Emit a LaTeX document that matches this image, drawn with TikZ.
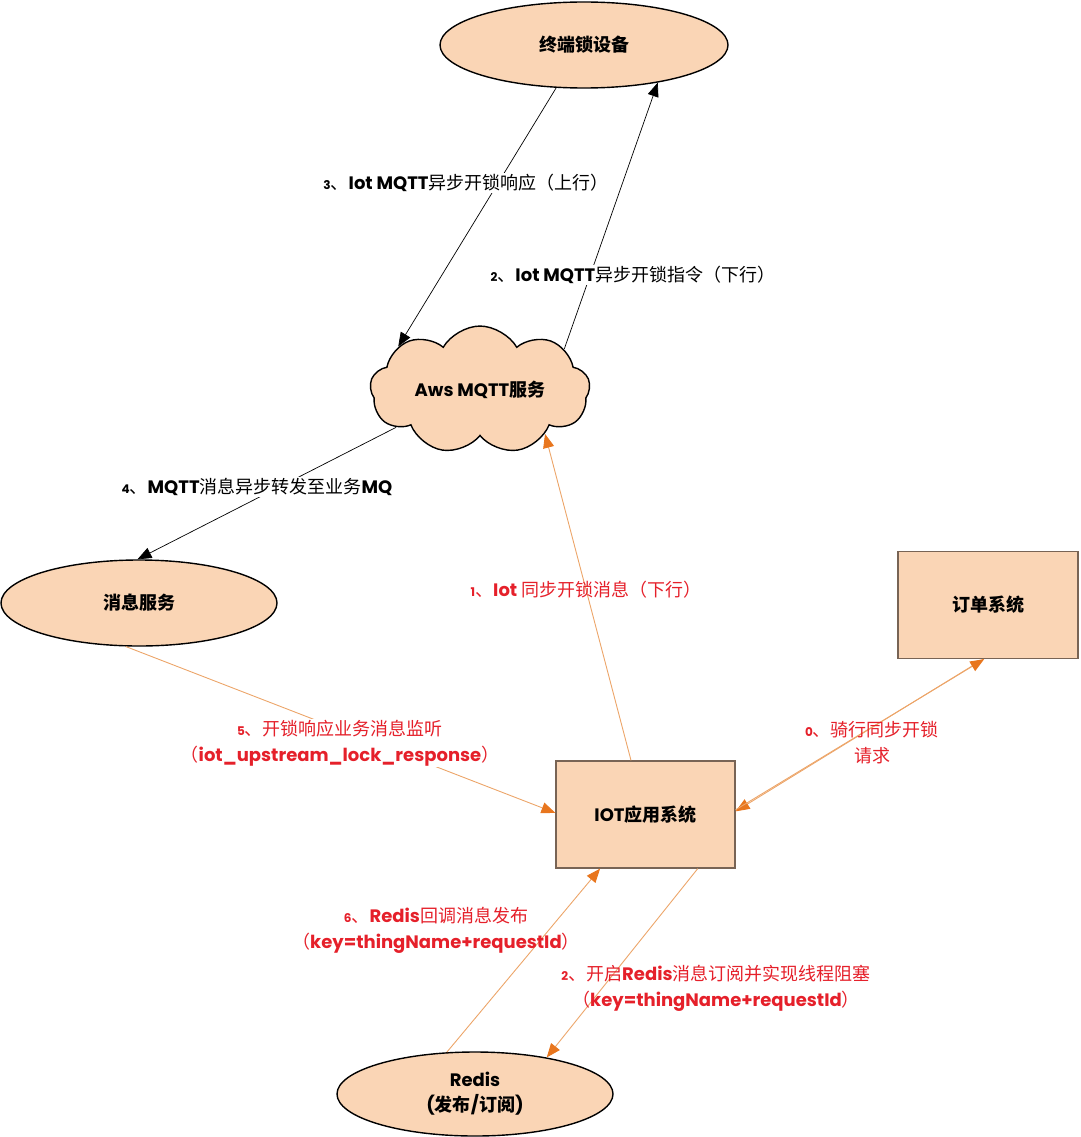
\documentclass[tikz,border=0pt]{standalone}
\usepackage{fontspec}
\setmainfont{Noto Sans CJK SC}
\newfontfamily\latf{Poppins}
\usetikzlibrary{shapes.geometric,shapes.symbols,arrows.meta}
\definecolor{peach}{RGB}{250,213,181}
\definecolor{boxline}{RGB}{120,100,85}
\definecolor{ahor}{RGB}{232,118,30}
\definecolor{lnor}{RGB}{236,165,105}
\definecolor{redtxt}{RGB}{229,32,42}
\newcommand\lt[1]{{\latf\bfseries #1}}
\newcommand\nm[1]{{\latf\bfseries\fontsize{12}{12}\selectfont #1}}
\begin{document}
\begin{tikzpicture}[x=1pt,y=-1pt,
  every node/.style={font=\fontsize{18}{26}\selectfont},
  ell/.style={ellipse, draw=black, line width=1.4pt, fill=peach, inner sep=0pt,
    font=\fontsize{18}{27}\selectfont\bfseries, align=center},
  sysbox/.style={rectangle, draw=boxline, line width=1.2pt, fill=peach, inner sep=0pt,
    font=\fontsize{18}{26}\selectfont\bfseries},
  blk/.style={draw=black, line width=0.7pt, -{Triangle[length=14pt,width=11pt]}},
  org/.style={draw=lnor, line width=0.9pt, -{Triangle[length=14pt,width=11pt,color=ahor,fill=ahor]}},
  lbl/.style={fill=white, inner sep=1pt, align=center},
  rlbl/.style={text=redtxt, inner sep=1pt, align=center},
]
\useasboundingbox (0,0) rectangle (1080,1137);

% nodes
\node[ell, minimum width=288pt, minimum height=86pt] (term) at (584,45) {终端锁设备};
\node[cloud, cloud puffs=9, cloud puff arc=120, aspect=1.9, draw=black, line width=1.4pt,
  fill=peach, minimum width=220pt, minimum height=115pt, inner sep=0pt,
  font=\fontsize{18}{26}\selectfont\bfseries] (cloud) at (480,390) {\lt{Aws MQTT}服务};
\node[ell, minimum width=276pt, minimum height=86pt] (msg) at (139,603) {消息服务};
\node[sysbox, minimum width=180pt, minimum height=107pt] (order) at (988,605) {订单系统};
\node[sysbox, minimum width=179pt, minimum height=107pt] (iot) at (645.5,814.5) {\lt{IOT}应用系统};
\node[ell, minimum width=276pt, minimum height=84pt] (redis) at (475,1094) {\lt{Redis}\\[-2pt]\lt{(}发布\lt{/}订阅\lt{)}};

% connectors
\draw[blk] (term.237) -- (cloud.152);
\draw[blk] (cloud.26) -- (term.333);
\draw[blk] (cloud.204) -- (msg.92);
\draw[org] (iot.105) -- (cloud.326);
\draw[org] (msg.253) -- (iot.179);
\draw[org] (order.265) -- (iot.2);
\draw[org] (iot.3) -- (order.266);
\draw[org] (redis.124) -- (iot.230);
\draw[org] (iot.314) -- (redis.27);

% labels
\node[lbl] (l3) at (466,183) {\nm{3}、\lt{Iot MQTT}异步开锁响应（上行）};
\node[lbl] (l2) at (633,275) {\nm{2}、\lt{Iot MQTT}异步开锁指令（下行）};
\node[lbl] (l4) at (257,487) {\nm{4}、\lt{MQTT}消息异步转发至业务\lt{MQ}};
\node[rlbl] (l1) at (586,590) {\nm{1}、\lt{Iot} 同步开锁消息（下行）};
\node[rlbl, fill=white] (l5) at (340,743) {\nm{5}、开锁响应业务消息监听\\（\lt{iot\_upstream\_lock\_response}）};
\node[rlbl] (l0) at (872,743) {\nm{0}、骑行同步开锁\\请求};
\node[rlbl] (l6) at (436,930) {\nm{6}、\lt{Redis}回调消息发布\\（\lt{key=thingName+requestId}）};
\node[rlbl] (l2b) at (716,988) {\nm{2}、开启\lt{Redis}消息订阅并实现线程阻塞\\（\lt{key=thingName+requestId}）};
\end{tikzpicture}
\end{document}
